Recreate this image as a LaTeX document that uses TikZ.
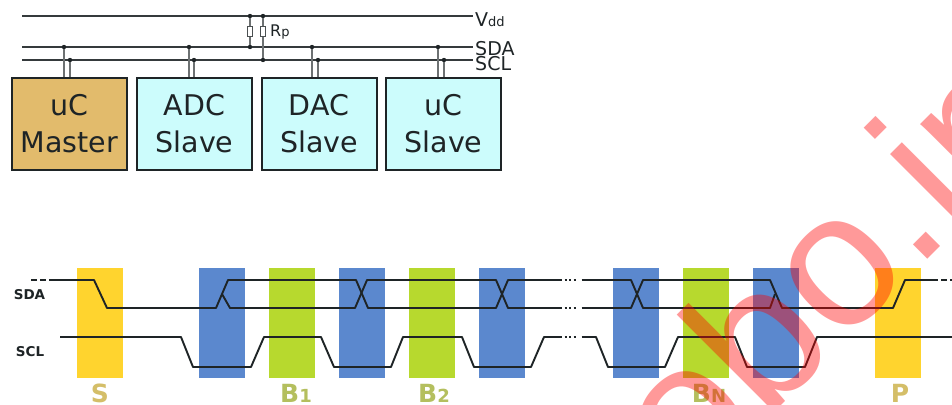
\documentclass[tikz,border=0pt]{standalone}
\usepackage{fontspec}
\setmainfont{DejaVu Sans}
\newfontfamily\markfont{Liberation Sans}
\usepackage{xcolor}
\definecolor{ink}{HTML}{1E2426}
\definecolor{masterfill}{HTML}{E2BB6C}
\definecolor{slavefill}{HTML}{CCFCFC}
\definecolor{startbar}{HTML}{FFD42E}
\definecolor{clockbar}{HTML}{5B88CE}
\definecolor{databar}{HTML}{B7D92E}
\definecolor{startlabel}{HTML}{D4BE68}
\definecolor{datalabel}{HTML}{B4BF5E}
\definecolor{stamp}{HTML}{FF0000}
\newcommand{\lowtxt}[1]{{\fontsize{13}{13}\selectfont #1}}
\newcommand{\lowbar}[1]{{\fontsize{18}{18}\selectfont #1}}
\tikzset{
  unit/.style={draw=ink, line width=2pt, minimum width=115pt, minimum height=92pt,
               align=center, inner sep=0pt, text=ink,
               font=\fontsize{28.5}{37}\selectfont},
  bus/.style={draw=ink!90, line width=1.6pt},
  tap/.style={draw=ink!65, line width=1.5pt},
  busdot/.style={circle, fill=ink, inner sep=0pt, minimum size=4.4pt},
  pullup/.style={draw=ink!80, fill=white, line width=0.9pt, minimum width=4.5pt,
                 minimum height=9.5pt, inner sep=0pt},
  buslabel/.style={anchor=west, inner sep=2pt, text=ink, font=\fontsize{19}{19}\selectfont},
  wave/.style={draw=ink, line width=1.9pt, line join=round},
  sigbreak/.style={draw=ink, line width=1.9pt, dash pattern=on 5pt off 2.5pt on 2pt off 2.5pt on 2pt off 2.5pt on 2pt off 6pt},
  sigline/.style={anchor=center, inner sep=0pt, text=ink, font=\fontsize{13.5}{14}\bfseries\selectfont},
  barlabel/.style={anchor=center, inner sep=0pt, font=\fontsize{25}{25}\bfseries\selectfont}
}
\begin{document}
\begin{tikzpicture}[x=1pt,y=-1pt]
  \useasboundingbox (0,0) rectangle (952,404);
  \clip (0,0) rectangle (952,404);
  \fill[white] (0,0) rectangle (952,404);

  \node[unit,fill=masterfill] (master) at (69.5,124) {uC\\Master};
  \node[unit,fill=slavefill] (adc) at (194.5,124) {ADC\\Slave};
  \node[unit,fill=slavefill] (dac) at (319,124) {DAC\\Slave};
  \node[unit,fill=slavefill] (slave) at (443.5,124) {uC\\Slave};

  \node[buslabel] (vdd) at (473,20) {V\lowtxt{dd}};
  \node[buslabel] (sda) at (473,49) {SDA};
  \node[buslabel] (scl) at (473,64) {SCL};
  \node[anchor=west,inner sep=0pt,text=ink,font=\fontsize{16}{16}\selectfont] (rp) at (270,32) {R\lowtxt{p}};

  \coordinate (vddstart) at (22,16);
  \coordinate (sdastart) at (22,47);
  \coordinate (sclstart) at (22,60);
  \draw[bus] (vddstart) -- (vddstart -| vdd.west);
  \draw[bus] (sdastart) -- (sdastart -| sda.west);
  \draw[bus] (sclstart) -- (sclstart -| scl.west);

  \node[busdot] (vddleft) at (250,16) {};
  \node[busdot] (vddright) at (263,16) {};
  \node[busdot] (sdaleft) at (250,47) {};
  \node[busdot] (sclright) at (263,60) {};
  \node[pullup] (rleft) at (250,31.5) {};
  \node[pullup] (rright) at (263,31.5) {};
  \draw[tap] (vddleft) -- (rleft) -- (sdaleft);
  \draw[tap] (vddright) -- (rright) -- (sclright);

  \node[busdot] (mastersda) at (64,47) {};
  \node[busdot] (masterscl) at (70,60) {};
  \node[busdot] (adcsda) at (189,47) {};
  \node[busdot] (adcscl) at (194,60) {};
  \node[busdot] (dacsda) at (312,47) {};
  \node[busdot] (dacscl) at (318,60) {};
  \node[busdot] (slavesda) at (438,47) {};
  \node[busdot] (slavescl) at (444,60) {};
  \draw[tap] (mastersda) -- (mastersda |- master.north);
  \draw[tap] (masterscl) -- (masterscl |- master.north);
  \draw[tap] (adcsda) -- (adcsda |- adc.north);
  \draw[tap] (adcscl) -- (adcscl |- adc.north);
  \draw[tap] (dacsda) -- (dacsda |- dac.north);
  \draw[tap] (dacscl) -- (dacscl |- dac.north);
  \draw[tap] (slavesda) -- (slavesda |- slave.north);
  \draw[tap] (slavescl) -- (slavescl |- slave.north);

  \fill[startbar] (77,268) rectangle (123,378);
  \fill[clockbar] (199,268) rectangle (245,378);
  \fill[databar] (269,268) rectangle (315,378);
  \fill[clockbar] (339,268) rectangle (385,378);
  \fill[databar] (409,268) rectangle (455,378);
  \fill[clockbar] (479,268) rectangle (525,378);
  \fill[clockbar] (613,268) rectangle (659,378);
  \fill[databar] (683,268) rectangle (729,378);
  \fill[clockbar] (753,268) rectangle (799,378);
  \fill[startbar] (875,268) rectangle (921,378);

  \draw[wave,dash pattern=on 6pt off 3pt] (31,280) -- (55,280);
  \draw[wave] (55,280) -- (94,280) -- (107,308) -- (216,308) -- (228,280) -- (356,280)
    -- (368,308) -- (496,308) -- (508,280) -- (557,280);
  \draw[wave] (222,294) -- (230,308) -- (355,308) -- (367,280) -- (496,280) -- (508,308) -- (557,308);
  \draw[sigbreak] (557,280) -- (582,280);
  \draw[sigbreak] (557,308) -- (582,308);
  \draw[wave] (582,280) -- (631,280) -- (643,308) -- (770,308) -- (775,294);
  \draw[wave] (582,308) -- (631,308) -- (643,280) -- (770,280) -- (782,308) -- (893,308)
    -- (905,280) -- (932,280);
  \draw[wave,dash pattern=on 6pt off 3pt] (932,280) -- (952,280);

  \draw[wave] (60,337) -- (181,337) -- (193,367) -- (251,367) -- (264,337) -- (321,337)
    -- (334,367) -- (391,367) -- (403,337) -- (462,337) -- (474,367) -- (531,367)
    -- (544,337) -- (557,337);
  \draw[sigbreak] (557,337) -- (582,337);
  \draw[wave] (582,337) -- (596,337) -- (608,367) -- (665,367) -- (678,337) -- (735,337)
    -- (747,367) -- (805,367) -- (817,337) -- (952,337);

  \node[sigline] (sdaname) at (29.5,295) {SDA};
  \node[sigline] (sclname) at (30,352) {SCL};

  \node[barlabel,text=startlabel] (startname) at (100,393) {S};
  \node[barlabel,text=datalabel] (firstname) at (296,393) {B\lowbar{1}};
  \node[barlabel,text=datalabel] (secondname) at (434,393) {B\lowbar{2}};
  \node[barlabel,text=datalabel] (lastname) at (709,393) {B\lowbar{N}};
  \node[barlabel,text=startlabel] (stopname) at (900,393) {P};

  \node[rotate=45,anchor=base,inner sep=0pt,text=stamp,text opacity=0.4,
        font=\markfont\fontsize{190}{190}\selectfont] (stampname) at (874,313) {obo.in};
\end{tikzpicture}
\end{document}
